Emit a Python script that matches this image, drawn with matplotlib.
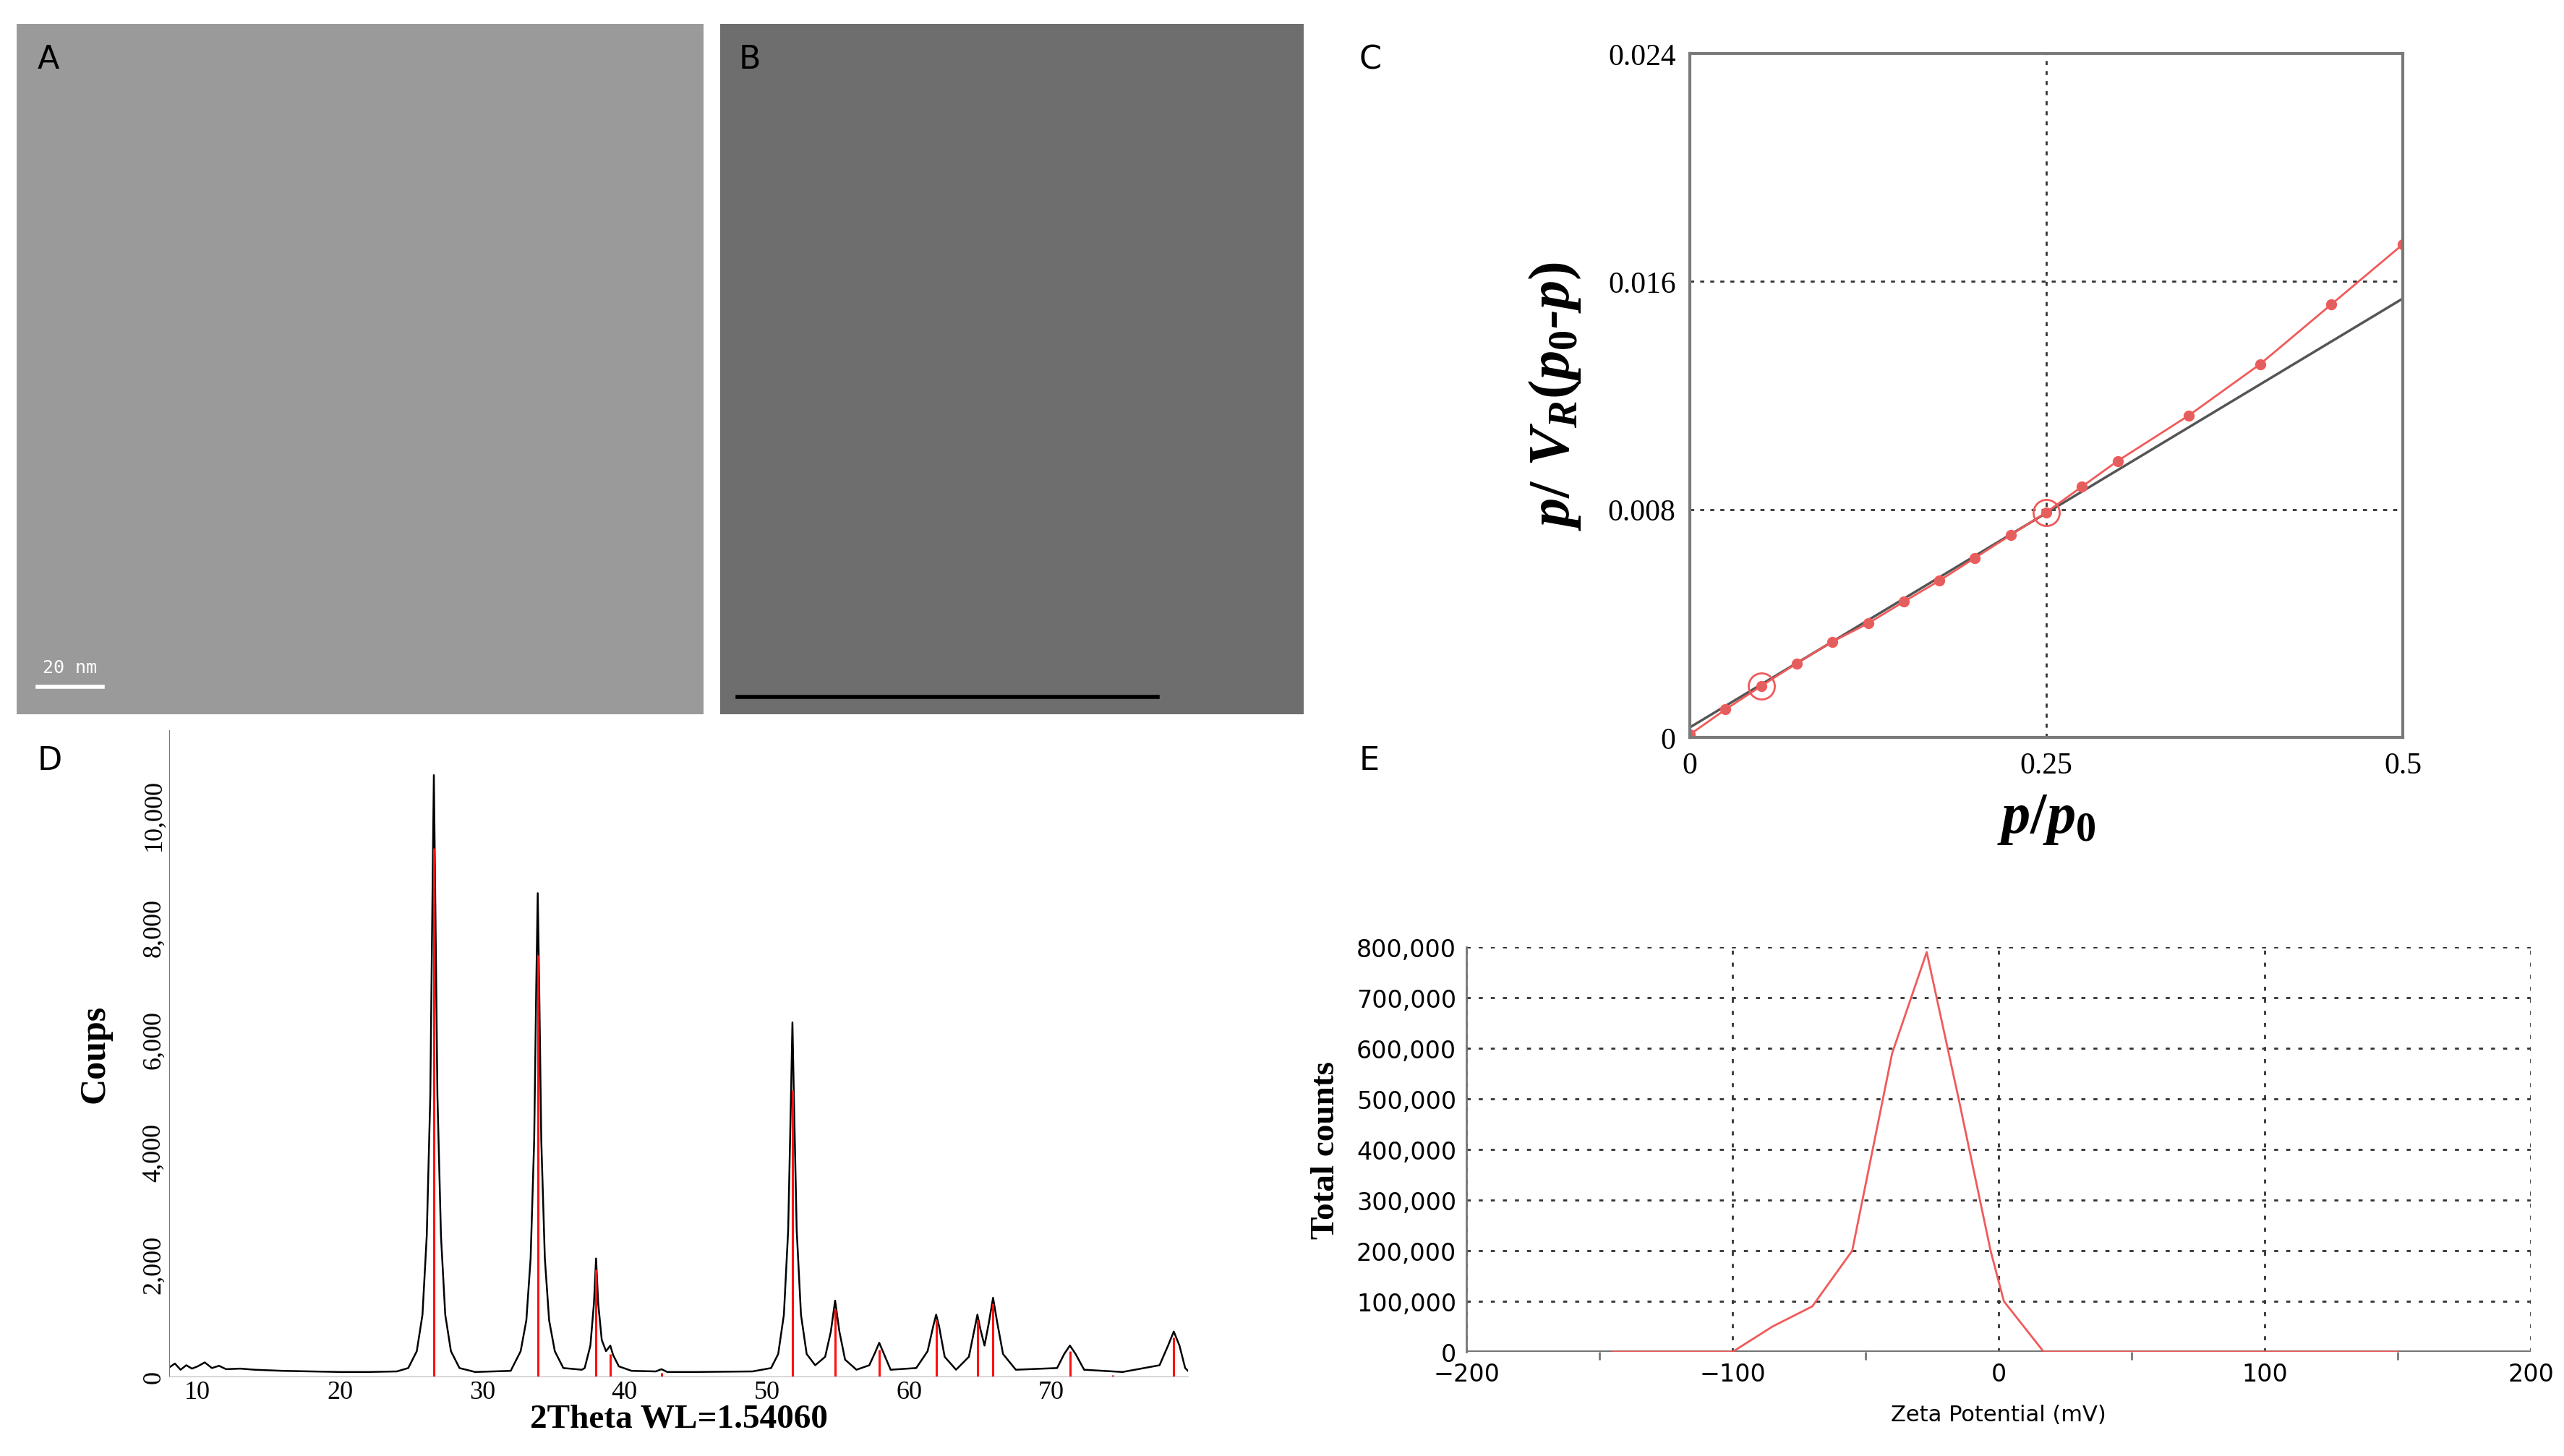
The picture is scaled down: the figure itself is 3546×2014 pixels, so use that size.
import matplotlib
matplotlib.use("Agg")
import matplotlib.pyplot as plt

plt.rcParams["mathtext.fontset"] = "custom"
plt.rcParams["mathtext.it"] = "Liberation Serif:italic:bold"
plt.rcParams["mathtext.rm"] = "Liberation Serif:bold"

W, H = 3546, 2015
fig = plt.figure(figsize=(W/100, H/100), dpi=100)

def ax_px(x0, y0, x1, y1):
    return fig.add_axes([x0/W, 1-y1/H, (x1-x0)/W, (y1-y0)/H])

# ---------------- data ----------------
# BET plot (panel C)
bet_x = [0, 0.025, 0.05, 0.075, 0.1, 0.125, 0.15, 0.175, 0.2, 0.225, 0.25, 0.275, 0.3, 0.35, 0.4, 0.45, 0.5]
bet_y = [0.0001, 0.00098, 0.0018, 0.0026, 0.00336, 0.0040, 0.00476, 0.0055, 0.0063, 0.0071, 0.0079,
         0.0088, 0.0097, 0.0113, 0.0131, 0.0152, 0.0173]
fit_x = [0, 0.5]
fit_y = [0.00035, 0.0154]
circled_x = [0.05, 0.25]
circled_y = [0.0018, 0.0079]

# XRD pattern (panel D)
xrd_x = [8.0, 8.4, 8.8, 9.2, 9.6, 10.0, 10.5, 11.0, 11.5, 12.0, 13.0, 14.0, 15.0, 16.0, 18.0, 20.0, 22.0, 24.0,
         24.8, 25.4, 25.8, 26.1, 26.35, 26.5, 26.6, 26.7, 26.85, 27.1, 27.4, 27.8, 28.4, 29.5, 32.0,
         32.1, 32.7, 33.1, 33.4, 33.65, 33.8, 33.9, 34.0, 34.15, 34.4, 34.7, 35.1, 35.7, 37.0,
         37.2, 37.6, 37.85, 38.0, 38.15, 38.4, 38.7, 38.85, 39.0, 39.2, 39.6, 40.5, 42.2, 42.6, 43.0, 45.0, 49.0,
         50.3, 50.8, 51.2, 51.5, 51.7, 51.8, 51.9, 52.1, 52.4, 52.8, 53.4, 54.1, 54.5, 54.8, 55.1, 55.5, 56.3,
         57.2, 57.6, 57.9, 58.2, 58.7, 60.5, 61.3, 61.7, 61.9, 62.1, 62.5, 63.3, 64.2, 64.6, 64.8,
         65.0, 65.3, 65.6, 65.9, 66.2, 66.6, 67.5, 70.4, 70.9, 71.3, 71.7, 72.3, 75.0, 77.6, 78.2,
         78.6, 79.0, 79.4, 79.6]
xrd_y = [160, 230, 120, 200, 140, 180, 250, 150, 190, 130, 140, 120, 110, 100, 90, 80, 80, 90,
         150, 450, 1100, 2500, 5000, 8500, 10700, 8500, 5000, 2500, 1100, 450, 150, 80, 100,
         150, 450, 1000, 2100, 4200, 7000, 8600, 7000, 4200, 2100, 1000, 450, 150, 120,
         150, 550, 1300, 2100, 1300, 650, 450, 500, 550, 380, 180, 100, 90, 130, 80, 80, 90,
         150, 400, 1100, 2600, 5000, 6300, 5000, 2600, 1100, 400, 200, 350, 800, 1350, 800, 300, 120,
         200, 420, 600, 420, 120, 150, 450, 900, 1100, 900, 350, 120, 350, 850, 1100,
         850, 550, 950, 1400, 950, 400, 120, 150, 400, 550, 400, 120, 80, 200, 550,
         800, 550, 150, 100]
stick_x = [26.6, 33.9, 38.0, 39.0, 42.6, 51.8, 54.8, 57.9, 61.9, 64.8, 65.9, 71.3, 74.3, 78.6]
stick_y = [9400, 7500, 1900, 400, 60, 5100, 1200, 480, 1000, 1000, 1300, 450, 20, 700]
xrd_xticks = [10, 20, 30, 40, 50, 60, 70]
xrd_yticks = [0, 2000, 4000, 6000, 8000, 10000]

# Zeta potential (panel E)
zeta_x = [-145, -100, -85, -70, -55, -40, -27, -15, -3, 2, 17, 150]
zeta_y = [0, 0, 50000, 90000, 200000, 590000, 790000, 500000, 200000, 100000, 0, 0]
zeta_xticks = [-200, -100, 0, 100, 200]
zeta_yticks = [0, 100000, 200000, 300000, 400000, 500000, 600000, 700000, 800000]

serif = "Liberation Serif"
red = "#f05a5a"

# ---------------- Panel A, B (micrographs as grey panels) ----------------
axA = ax_px(23, 34, 973, 989)
axA.set_facecolor("#9a9a9a")
axA.set_xticks([]); axA.set_yticks([])
for s in axA.spines.values(): s.set_visible(False)
axA.plot([0.03, 0.125], [0.04, 0.04], color="white", lw=4, transform=axA.transAxes)
axA.text(0.077, 0.055, "20 nm", color="white", fontsize=18, ha="center", va="bottom",
         family="DejaVu Sans Mono", transform=axA.transAxes)

axB = ax_px(996, 34, 1803, 989)
axB.set_facecolor("#6e6e6e")
axB.set_xticks([]); axB.set_yticks([])
for s in axB.spines.values(): s.set_visible(False)
axB.plot([0.03, 0.75], [0.025, 0.025], color="black", lw=4, transform=axB.transAxes)

# ---------------- Panel C ----------------
axC = ax_px(2337, 75, 3323, 1021)
axC.plot(fit_x, fit_y, color="#555555", lw=2.5)
axC.plot(bet_x, bet_y, color=red, lw=2, marker="o", ms=9, mfc="#e06060", mec=red, mew=2)
axC.plot(circled_x, circled_y, ls="none", marker="o", ms=26, mfc="none", mec=red, mew=2)
axC.set_xlim(0, 0.5); axC.set_ylim(0, 0.024)
axC.set_xticks([0, 0.25, 0.5]); axC.set_xticklabels(["0", "0.25", "0.5"])
axC.set_yticks([0, 0.008, 0.016, 0.024]); axC.set_yticklabels(["0", "0.008", "0.016", "0.024"])
axC.grid(True, ls=(0, (2, 3)), color="#333333", lw=2)
axC.tick_params(length=0, labelsize=30, pad=14)
for lab in axC.get_xticklabels() + axC.get_yticklabels():
    lab.set_family(serif)
for s in axC.spines.values():
    s.set_color("#7a7a7a"); s.set_linewidth(3)
axC.set_xlabel(r"$p/p_0$", fontsize=58, labelpad=10)
axC.set_ylabel(r"$p/\ V_R(p_0$-$p)$", fontsize=58, labelpad=25,
               family=serif, fontweight="bold", fontstyle="italic")

# ---------------- Panel D ----------------
axD = ax_px(234, 1011, 1643, 1905)
axD.plot(xrd_x, xrd_y, color="black", lw=1.8)
axD.vlines(stick_x, 0, stick_y, color="#ff1010", lw=2.2)
axD.set_xlim(8, 79.6); axD.set_ylim(0, 11500)
axD.set_xticks(xrd_xticks)
axD.set_yticks(xrd_yticks)
axD.set_yticklabels([f"{v:,}" for v in xrd_yticks], rotation=90, va="center")
axD.tick_params(labelsize=26, length=0)
for lab in axD.get_xticklabels() + axD.get_yticklabels():
    lab.set_family(serif)
for k in ["top", "right"]:
    axD.spines[k].set_visible(False)
axD.spines["left"].set_linestyle((0, (1, 1)))
axD.spines["left"].set_color("#777777")
axD.spines["bottom"].set_color("#bbbbbb")
axD.set_xlabel("2Theta WL=1.54060", fontsize=34, fontweight="bold", family=serif, labelpad=0)
axD.set_ylabel("Coups", fontsize=36, fontweight="bold", family=serif, labelpad=30)

# ---------------- Panel E ----------------
axE = ax_px(2028, 1311, 3500, 1871)
axE.axhline(0, color="#777777", lw=3)
axE.plot(zeta_x, zeta_y, color=red, lw=2)
axE.set_xlim(-200, 200); axE.set_ylim(0, 800000)
axE.set_xticks(zeta_xticks)
axE.set_yticks(zeta_yticks)
axE.set_yticklabels([f"{v:,}" for v in zeta_yticks])
axE.set_xticks([-150, -50, 50, 150], minor=True)
axE.grid(True, ls=(0, (2, 4)), color="#333333", lw=2)
axE.tick_params(labelsize=24, length=0, pad=10)
axE.tick_params(axis="x", which="minor", length=8, width=2, color="#777777")
for k in ["top", "right", "bottom"]:
    axE.spines[k].set_visible(False)
axE.spines["left"].set_color("#777777"); axE.spines["left"].set_linewidth(2)
axE.set_xlabel("Zeta Potential (mV)", fontsize=22, labelpad=18)
axE.set_ylabel("Total counts", fontsize=34, fontweight="bold", family=serif, labelpad=15)

# ---------------- Panel letters ----------------
for lbl, x, y in [("A", 52, 95), ("B", 1022, 95), ("C", 1880, 95), ("D", 52, 1065), ("E", 1880, 1065)]:
    fig.text(x/W, 1-y/H, lbl, fontsize=32, color="black", family="DejaVu Sans")

fig.savefig("out.png", dpi=100)
